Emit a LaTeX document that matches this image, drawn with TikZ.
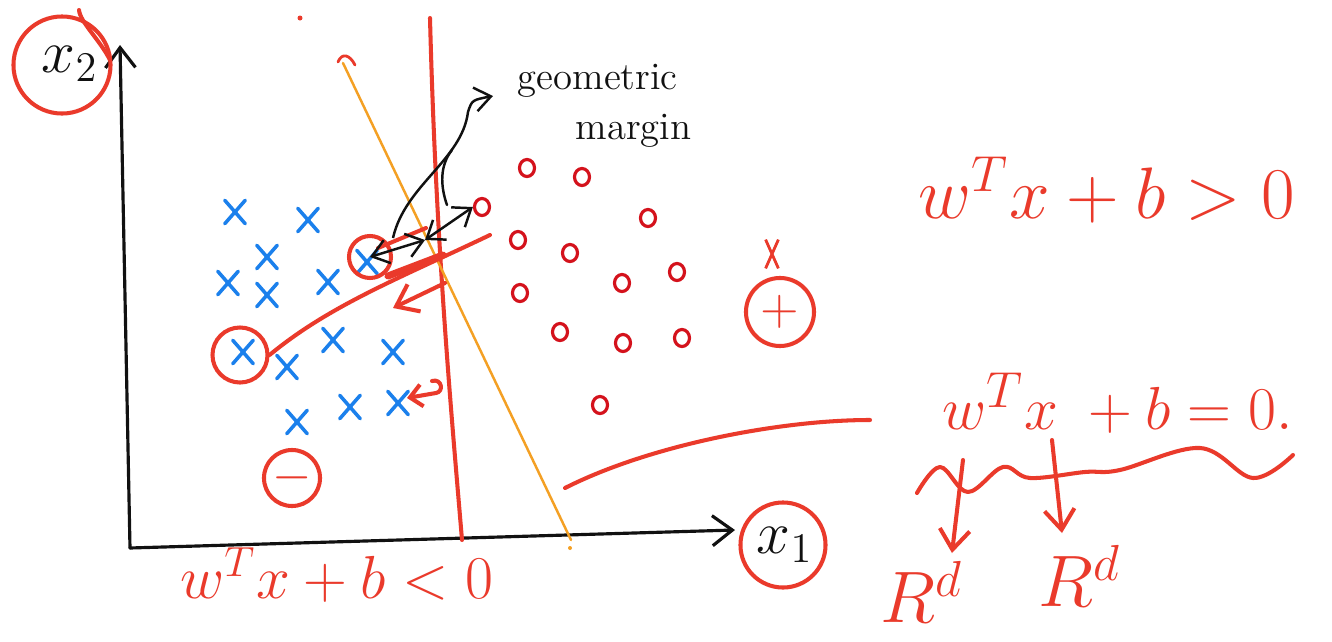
\documentclass[tikz,border=0pt]{standalone}
\usepackage{amsmath}
\usepackage{xcolor}
\usepackage{tikz}
\usetikzlibrary{arrows.meta,positioning,calc,shapes.misc,shapes.geometric}
\definecolor{ink}{HTML}{111111}
\definecolor{pen}{HTML}{EA3A2B}
\definecolor{penred}{HTML}{D4121C}
\definecolor{penblue}{HTML}{1B80EC}
\definecolor{penorange}{HTML}{F4A024}

\tikzset{
  stroke/.style={line width=1.15pt,line cap=round,line join=round},
  xmark/.style={cross out,draw=penblue,line width=1pt,line cap=round,minimum width=0.17cm,minimum height=0.2cm,inner sep=0pt},
  omark/.style={ellipse,draw=penred,line width=0.9pt,minimum width=0.15cm,minimum height=0.17cm,inner sep=0pt},
  ring/.style={circle,draw=pen,line width=1.15pt,inner sep=0pt,text=pen},
  eqn/.style={text=pen,font=\fontsize{20}{24}\selectfont}
}

\begin{document}
\begin{tikzpicture}[x=0.01cm,y=-0.01cm,>={Straight Barb[length=2mm,width=3mm]}]
  \fill[white] (0,0) rectangle (1332,642);
  \useasboundingbox (0,0) rectangle (1332,642);
  % axes
  \coordinate (o) at (130,548);
  \coordinate (ytop) at (120,45);
  \coordinate (xend) at (735,530);
  \draw[->,ink,stroke,line width=0.9pt] (o) -- (ytop);
  \draw[->,ink,stroke,line width=0.9pt] (o) -- (xend);
  \node[ring,minimum size=0.97cm] (x2ring) at (62,65) {};
  \node[ink,font=\fontsize{18}{20}\selectfont] (x2) at (70,64) {$x_2$};
  \draw[pen,stroke] (79,10) .. controls (80,22) and (100,40) .. (110,60);
  \node[ring,minimum size=0.85cm] (x1ring) at (783,545) {};
  \node[ink,font=\fontsize{18}{20}\selectfont] (x1) at (785,545) {$x_1$};
  % boundaries
  \draw[pen,stroke] (430,18) .. controls (436,250) and (452,420) .. (462,540);
  \draw[penorange,line width=0.7pt,line cap=round] (343,63) -- (571,540);
  \fill[pen] (300,18) circle (2.5);
  \draw[pen,stroke,line width=0.8pt] (338,62) .. controls (342,52) and (350,55) .. (355,65);
  \fill[penorange] (570,548) circle (2);
  % negatives
  \foreach \p [count=\i] in {(235,212),(308,220),(267,257),(228,283),(267,295),(328,282),(367,262),
     (243,352),(333,340),(393,352),(287,367),(297,422),(350,407),(398,403)}{
     \node[xmark] (neg\i) at \p {};}
  % positives
  \foreach \p [count=\i] in {(527,168),(582,177),(482,207),(648,218),(518,240),(570,253),(520,293),
     (622,283),(677,272),(560,332),(623,343),(682,338),(600,405)}{
     \node[omark] (pos\i) at \p {};}
  % circled points and normal
  \node[ring,minimum size=0.42cm] (svneg) at (370,257) {};
  \node[ring,minimum size=0.55cm] (farneg) at (240,355) {};
  \draw[pen,stroke] (farneg.east) .. controls (330,305) and (400,278) .. (490,235);
  \draw[pen,line width=2pt,line cap=round] (388,276) -- (443,255);
  \draw[pen,stroke] (378,248) -- (426,228);
  \draw[->,pen,stroke] (445,283) -- (393,308);
  \draw[->,pen,stroke,>={Straight Barb[length=1.2mm,width=2.2mm]}] (432,381) .. controls (442,378) and (444,392) .. (436,393) -- (407,398);
  % margin
  \coordinate (mid) at (425,240);
  \draw[<->,ink,line width=0.7pt,>={Straight Barb[length=1.6mm,width=2.4mm]}] (svneg.center) -- (mid);
  \draw[<->,ink,line width=0.7pt,>={Straight Barb[length=1.6mm,width=2.4mm]}] (mid) -- (pos3.west);
  \node[ink,font=\fontsize{11}{14}\selectfont,align=left,anchor=north west,inner sep=0pt] (gm) at (517,64) {geometric\\\hspace*{1.5em}margin};
  \coordinate (gmtip) at (493,96);
  \draw[->,ink,line width=0.7pt,>={Straight Barb[length=1.6mm,width=2.4mm]}] (393,238) .. controls (405,185) and (462,160) .. (468,112) .. controls (472,100) .. (gmtip);
  \draw[ink,line width=0.7pt,line cap=round] (447,205) .. controls (440,185) and (440,165) .. (452,150);
  % class labels
  \node[ring,minimum size=0.56cm,font=\Large] (minus) at (292,478) {$-$};
  \node[ring,minimum size=0.68cm,font=\Large] (plus) at (780,312) {$+$};
  \node[cross out,draw=pen,line width=0.8pt,minimum width=0.1cm,minimum height=0.26cm,inner sep=0pt] (tick) at (772,254) {};
  % equations
  \node[eqn] (gt) at (1107,190) {$w^{T}x+b>0$};
  \node[eqn,font=\fontsize{19}{22}\selectfont,anchor=west] (eq) at (930,403) {$w^{T}x\;+b=0.$};
  \node[eqn,font=\fontsize{18}{22}\selectfont] (lt) at (337,575) {$w^{T}x+b<0$};
  \coordinate (eqlink) at (870,420);
  \draw[pen,stroke] (565,488) .. controls (650,445) and (780,420) .. (eqlink);
  % brace
  \draw[pen,stroke] plot[smooth,tension=0.6] coordinates {(917,493) (940,467) (968,492) (1003,467) (1030,478)
     (1085,472) (1120,470) (1200,448) (1253,478) (1293,455)};
  \node[eqn,font=\fontsize{21}{24}\selectfont] (rdl) at (922,592) {$R^{d}$};
  \node[eqn,font=\fontsize{22}{24}\selectfont] (rdr) at (1080,576) {$R^{d}$};
  \coordinate (bl) at (963,460);
  \coordinate (bltip) at (952,553);
  \coordinate (br) at (1052,440);
  \coordinate (brtip) at (1062,533);
  \draw[->,pen,stroke] (bl) -- (bltip);
  \draw[->,pen,stroke] (br) -- (brtip);
\end{tikzpicture}
\end{document}
